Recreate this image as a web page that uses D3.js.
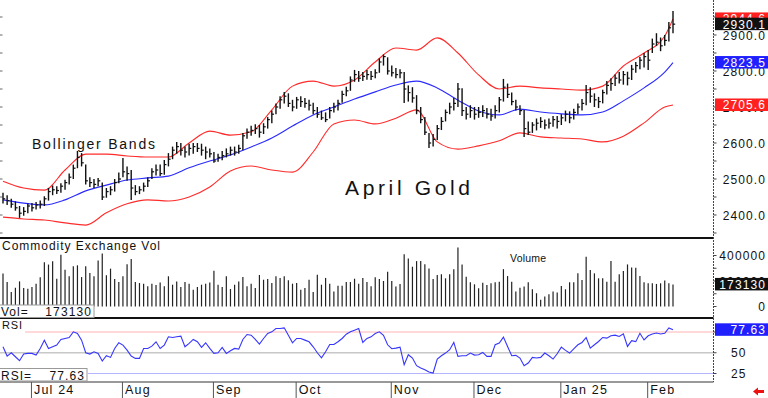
<!DOCTYPE html>
<html>
<head>
<meta charset="utf-8">
<script src="https://cdn.jsdelivr.net/npm/d3@7"></script>
<style>
  body { margin: 0; background: #fff; }
  text { font-family: "Liberation Sans", Arial, sans-serif; fill: #111; }
</style>
</head>
<body>
<div id="chart"></div>
<script>
// daily bars, 20 Jun 2024 .. 11 Feb 2025 (index = trading day)
const high = [2462,2455,2445,2438,2425,2422,2432,2433,2436,2440,2452,2475,2482,2480,2488,2498,2515,2540,2578,2572,
  2540,2505,2500,2503,2490,2475,2480,2500,2518,2558,2535,2525,2483,2480,2490,2505,2530,2540,2540,2553,
  2572,2590,2603,2600,2590,2598,2600,2600,2598,2590,2585,2575,2570,2578,2585,2590,2590,2595,2628,2640,
  2648,2652,2650,2655,2672,2690,2710,2730,2742,2738,2720,2728,2730,2725,2720,2712,2700,2690,2685,2700,
  2712,2720,2745,2756,2785,2803,2800,2797,2803,2800,2805,2835,2846,2838,2815,2808,2805,2797,2760,2755,
  2733,2700,2672,2628,2625,2650,2672,2693,2712,2725,2767,2752,2700,2705,2700,2700,2705,2697,2695,2705,
  2728,2778,2765,2740,2720,2705,2692,2660,2658,2668,2672,2665,2668,2675,2675,2680,2690,2688,2695,2710,
  2722,2761,2755,2738,2728,2748,2772,2780,2790,2797,2800,2798,2817,2825,2839,2850,2858,2890,2905,2893,
  2900,2936,2967];
const low = [2432,2428,2420,2412,2392,2398,2405,2410,2415,2418,2425,2440,2455,2458,2462,2470,2485,2500,2530,2535,
  2485,2478,2475,2480,2442,2448,2455,2465,2488,2505,2495,2442,2455,2458,2465,2478,2500,2510,2508,2512,
  2535,2555,2570,2565,2560,2565,2570,2575,2565,2555,2560,2545,2548,2552,2560,2565,2565,2570,2580,2612,
  2620,2625,2615,2625,2640,2655,2680,2695,2710,2700,2688,2695,2700,2698,2690,2680,2670,2664,2658,2668,
  2685,2690,2712,2730,2745,2770,2770,2772,2776,2775,2780,2795,2815,2790,2785,2780,2780,2711,2715,2712,
  2680,2655,2622,2586,2590,2608,2636,2660,2680,2690,2700,2675,2665,2670,2665,2670,2672,2668,2662,2668,
  2685,2715,2725,2705,2690,2678,2617,2622,2628,2635,2642,2638,2640,2645,2640,2650,2660,2655,2665,2680,
  2690,2705,2712,2700,2697,2710,2735,2745,2758,2765,2762,2760,2775,2795,2805,2810,2803,2850,2870,2855,
  2870,2882,2905];
const close = [2445,2440,2430,2420,2405,2410,2425,2420,2428,2430,2445,2465,2470,2468,2480,2490,2505,2530,2560,2545,
  2495,2490,2485,2495,2450,2465,2470,2490,2500,2520,2515,2475,2465,2470,2480,2495,2520,2525,2515,2540,
  2555,2580,2590,2580,2575,2585,2590,2585,2580,2575,2570,2550,2560,2565,2570,2580,2575,2585,2620,2630,
  2635,2640,2630,2645,2665,2680,2700,2720,2730,2710,2700,2720,2715,2710,2705,2690,2680,2670,2665,2690,
  2700,2710,2735,2745,2775,2790,2780,2785,2790,2785,2795,2825,2840,2800,2795,2790,2795,2750,2740,2725,
  2690,2665,2630,2600,2610,2640,2660,2685,2700,2710,2750,2690,2680,2690,2680,2685,2690,2680,2675,2690,
  2720,2755,2735,2715,2700,2690,2640,2630,2650,2655,2660,2650,2655,2665,2660,2670,2680,2670,2685,2700,
  2710,2740,2730,2720,2715,2740,2760,2765,2780,2775,2790,2780,2805,2815,2830,2840,2830,2875,2880,2870,
  2885,2920,2930.1];

// volume, thousands of contracts
const volumeK = [258,192,113,147,197,145,139,153,179,229,347,329,355,218,405,289,237,316,323,231,
  316,263,237,360,416,245,297,216,192,237,331,373,192,184,179,158,179,168,189,158,
  237,171,197,153,192,179,132,153,171,179,189,281,171,153,237,137,171,197,231,158,
  179,145,247,210,216,184,237,224,237,205,179,184,132,145,210,113,250,171,224,179,
  118,163,163,192,192,218,179,224,192,158,229,216,200,
  273,200,156,177,410,377,312,356,356,332,299,216,247,252,221,252,293,462,330,234,
  190,174,143,187,169,182,190,195,293,239,195,117,148,156,190,135,104,52,78,96,
  117,109,161,135,190,190,260,208,390,286,260,221,221,195,356,195,252,278,330,306,
  304,239,190,182,182,177,182,203,182,173.13];

const rsi = [57.2,46,50,45.2,40.4,48.4,49.2,49.2,47.2,55.2,65.2,55.2,57.2,59.2,66,67.2,68.4,75.2,73.2,65.2,
  50,48.4,51.2,49.2,40,46.4,44.4,55.2,62,59.2,53.2,46,43.2,43.2,55.2,55.2,58,63.2,55.2,59.2,
  69.2,68.4,69.2,70,57.2,61.2,66,63.2,56.4,62,55.2,49.2,50,56.4,49.2,52.4,55.2,54.4,66,72,
  71.2,66,60.4,67.2,73.2,75.2,79.2,79.2,80,71.2,62,67.2,67.2,65.2,63.2,57.2,50,44,51.2,60,
  60,63.2,67.2,72.4,75.2,77.2,79.2,62.4,67.2,69.2,73.2,75.2,71,
  59.6,54.8,55.6,56.8,35.6,47.6,43.6,34.4,31.6,29.6,26.8,25.6,42.4,46.4,49.6,53.6,62.4,45.6,46.4,46.4,
  49.6,47.2,47.6,50.4,45.6,45.6,59.6,61.6,68.8,57.6,46.4,46.8,43.6,34.4,37.6,44.4,43.6,44.4,49.6,46.4,
  42.4,48.8,56.8,52.8,49.6,54.8,59.6,62.4,68.4,55.6,59.6,63.6,68.4,67.6,70.4,71.2,69.6,72.8,57.6,64.6,
  63.4,73.4,65.4,70.4,72.6,73.8,72.6,73.4,79.8,77.63];

// bollinger bands every 5 bars
const bandIdx = [0,5,10,15,20,25,30,35,40,45,50,55,60,65,70,75,80,85,90,95,100,105,110,115,120,125,130,135,140,145,150,155,160,162];
const upper = [2494,2475,2469,2525,2569,2569,2564,2561,2561,2600,2633,2622,2631,2692,2758,2772,2758,2775,2825,2864,
  2858,2892,2850,2789,2750,2758,2753,2750,2747,2758,2814,2850,2897,2944.6];
const middle = [2442,2433,2428,2442,2467,2483,2497,2503,2508,2531,2550,2567,2589,2614,2647,2678,2700,2722,2742,2761,
  2772,2753,2719,2689,2678,2694,2686,2681,2678,2686,2717,2753,2797,2823.5];
const lower = [2394,2389,2386,2378,2372,2406,2431,2442,2439,2450,2478,2522,2536,2525,2519,2575,2653,2664,2653,2669,
  2692,2603,2583,2592,2606,2628,2617,2614,2611,2603,2619,2656,2700,2705.6];

const monthIdx = [7, 29, 51, 71, 94, 114, 135, 156];
const monthLabels = ["Jul 24", "Aug", "Sep", "Oct", "Nov", "Dec", "Jan 25", "Feb"];
const priceTicks = [2400, 2500, 2600, 2700, 2800, 2900];
const volTicks = [0, 200, 400];
const rsiTicks = [25, 50];

const width = 768, height = 398, right = 713.5;

const svg = d3.select("#chart").append("svg")
  .attr("width", width).attr("height", height);

const x = d3.scaleLinear().domain([0, close.length - 1]).range([3, 673]);
const yP = d3.scaleLinear().domain([2400, 2900]).range([215, 35]);
const yV = d3.scaleLinear().domain([0, 400]).range([306.5, 255.5]);
const yR = d3.scaleLinear().domain([25, 75]).range([373.5, 332]);

// ---- price panel
// left side small ticks
svg.append("g").selectAll("line")
  .data(d3.range(2350, 3000, 50)).enter().append("line")
  .attr("x1", 0).attr("x2", 2.5)
  .attr("y1", d => yP(d)).attr("y2", d => yP(d))
  .attr("stroke", "#666").attr("stroke-width", 1);

const band = (arr) => d3.line()
  .x((d, i) => x(bandIdx[i]))
  .y(d => yP(d))
  .curve(d3.curveMonotoneX)(arr);

svg.append("path").attr("d", band(upper)).attr("fill", "none").attr("stroke", "#ff2b2b").attr("stroke-width", 1.1);
svg.append("path").attr("d", band(lower)).attr("fill", "none").attr("stroke", "#ff2b2b").attr("stroke-width", 1.1);
svg.append("path").attr("d", band(middle)).attr("fill", "none").attr("stroke", "#2a2aff").attr("stroke-width", 1.1);

const bars = svg.append("g").selectAll("g").data(d3.range(close.length)).enter().append("g");
bars.append("line")
  .attr("x1", i => x(i)).attr("x2", i => x(i))
  .attr("y1", i => yP(high[i])).attr("y2", i => yP(low[i]))
  .attr("stroke", "#111").attr("stroke-width", 1.4);
bars.append("line")
  .attr("x1", i => x(i)).attr("x2", i => x(i) + 2.2)
  .attr("y1", i => yP(close[i])).attr("y2", i => yP(close[i]))
  .attr("stroke", "#111").attr("stroke-width", 1.2);

svg.append("text").attr("x", 32).attr("y", 149)
  .attr("font-size", 14).attr("textLength", 123).attr("lengthAdjust", "spacing")
  .text("Bollinger Bands");
svg.append("text").attr("x", 345).attr("y", 195)
  .attr("font-size", 21).attr("textLength", 125).attr("lengthAdjust", "spacing")
  .text("April Gold");

// ---- volume panel
svg.append("g").selectAll("line").data(volumeK).enter().append("line")
  .attr("x1", (d, i) => x(i)).attr("x2", (d, i) => x(i))
  .attr("y1", yV(0)).attr("y2", d => yV(d))
  .attr("stroke", "#222").attr("stroke-width", 1.2);

svg.append("text").attr("x", 2).attr("y", 250)
  .attr("font-size", 12).attr("textLength", 158).attr("lengthAdjust", "spacing")
  .text("Commodity Exchange Vol");
svg.append("text").attr("x", 510).attr("y", 262)
  .attr("font-size", 10.5).attr("textLength", 36).attr("lengthAdjust", "spacing")
  .text("Volume");

// ---- rsi panel
svg.append("line").attr("x1", 25).attr("x2", right).attr("y1", yR(75)).attr("y2", yR(75))
  .attr("stroke", "#ffb4b4").attr("stroke-width", 1);
svg.append("line").attr("x1", 0).attr("x2", right).attr("y1", yR(50)).attr("y2", yR(50))
  .attr("stroke", "#c8c8c8").attr("stroke-width", 1.6);
svg.append("line").attr("x1", 88).attr("x2", right).attr("y1", yR(25)).attr("y2", yR(25))
  .attr("stroke", "#b4b4ff").attr("stroke-width", 1);

svg.append("path").datum(rsi)
  .attr("d", d3.line().x((d, i) => x(i)).y(d => yR(d)))
  .attr("fill", "none").attr("stroke", "#3636ff").attr("stroke-width", 1.1);

svg.append("text").attr("x", 2).attr("y", 329)
  .attr("font-size", 11).attr("textLength", 20).attr("lengthAdjust", "spacing").text("RSI");

// ---- frames
svg.append("line").attr("x1", 0).attr("x2", right).attr("y1", 238).attr("y2", 238)
  .attr("stroke", "#111").attr("stroke-width", 2);
svg.append("line").attr("x1", 0).attr("x2", right).attr("y1", 318).attr("y2", 318)
  .attr("stroke", "#111").attr("stroke-width", 2);
svg.append("line").attr("x1", 0).attr("x2", right).attr("y1", 382).attr("y2", 382)
  .attr("stroke", "#333").attr("stroke-width", 1);
svg.append("line").attr("x1", right).attr("x2", right).attr("y1", 0).attr("y2", 382)
  .attr("stroke", "#444").attr("stroke-width", 1).attr("stroke-dasharray", "2,1");

// right-side ticks
svg.append("g").selectAll("line")
  .data(d3.range(2350, 3000, 50)).enter().append("line")
  .attr("x1", right).attr("x2", right + 3)
  .attr("y1", d => yP(d)).attr("y2", d => yP(d))
  .attr("stroke", "#444");
svg.append("g").selectAll("line")
  .data(d3.range(0, 500, 100)).enter().append("line")
  .attr("x1", right).attr("x2", right + 3)
  .attr("y1", d => yV(d)).attr("y2", d => yV(d))
  .attr("stroke", "#444");
svg.append("g").selectAll("line")
  .data([25, 50, 75]).enter().append("line")
  .attr("x1", right).attr("x2", right + 3)
  .attr("y1", d => yR(d)).attr("y2", d => yR(d))
  .attr("stroke", "#444");

// month axis
const months = svg.append("g").selectAll("g").data(monthIdx).enter().append("g");
months.append("line")
  .attr("x1", d => x(d) - 0.5).attr("x2", d => x(d) - 0.5)
  .attr("y1", 382).attr("y2", 398)
  .attr("stroke", "#555").attr("stroke-width", 1);
months.append("text")
  .attr("x", d => x(d) + 2).attr("y", 394)
  .attr("font-size", 12.5)
  .attr("letter-spacing", 1.2)
  .text((d, i) => monthLabels[i]);

// right labels
const fmt1 = d3.format(".1f");
svg.append("g").selectAll("text").data(priceTicks).enter().append("text")
  .attr("x", 766).attr("y", d => yP(d) + 4.5)
  .attr("text-anchor", "end").attr("font-size", 12).attr("letter-spacing", 1.1)
  .text(d => fmt1(d));
svg.append("g").selectAll("text").data(volTicks).enter().append("text")
  .attr("x", 766).attr("y", d => yV(d) + 4.5)
  .attr("text-anchor", "end").attr("font-size", 12).attr("letter-spacing", 1.1)
  .text(d => d * 1000);
svg.append("g").selectAll("text").data(rsiTicks).enter().append("text")
  .attr("x", 731).attr("y", d => yR(d) + 4.5)
  .attr("font-size", 12).attr("letter-spacing", 1.1)
  .text(d => d);

function valueBox(yv, txt, fill) {
  svg.append("rect").attr("x", 715).attr("y", yv - 6.5).attr("width", 53).attr("height", 12.5)
    .attr("fill", fill);
  svg.append("text").attr("x", 766).attr("y", yv + 4.5)
    .attr("text-anchor", "end").attr("font-size", 12).attr("letter-spacing", 1.1)
    .style("fill", "#fff").text(txt);
}
const last = close.length - 1;
valueBox(yP(upper[upper.length - 1]), fmt1(upper[upper.length - 1]), "#ff2020");
valueBox(yP(close[last]), fmt1(close[last]), "#111");
valueBox(yP(middle[middle.length - 1]), fmt1(middle[middle.length - 1]), "#2020ff");
valueBox(yP(lower[lower.length - 1]), fmt1(lower[lower.length - 1]), "#ff2020");
valueBox(yV(volumeK[last]), d3.format(".0f")(volumeK[last] * 1000), "#111");
valueBox(yR(rsi[last]), d3.format(".2f")(rsi[last]), "#2020ff");

// readout boxes on the left
function readout(y0, w, label, val) {
  svg.append("rect").attr("x", -1).attr("y", y0).attr("width", w).attr("height", 12.5)
    .attr("fill", "#fff").attr("stroke", "#999").attr("stroke-width", 1);
  svg.append("text").attr("x", 1).attr("y", y0 + 11).attr("font-size", 12)
    .attr("letter-spacing", 1).text(label);
  svg.append("text").attr("x", w - 3).attr("y", y0 + 11).attr("font-size", 12)
    .attr("text-anchor", "end").attr("letter-spacing", 1.1).text(val);
}
readout(305, 95, "Vol=", d3.format(".0f")(volumeK[last] * 1000));
readout(368.5, 88, "RSI=", d3.format(".2f")(rsi[last]));

// red arrow bottom right
svg.append("path")
  .attr("d", "M753,391.5 L758,387.5 L758,390 L764,390 L764,393 L758,393 L758,395.5 Z")
  .attr("fill", "#ee1111");
</script>
</body>
</html>
